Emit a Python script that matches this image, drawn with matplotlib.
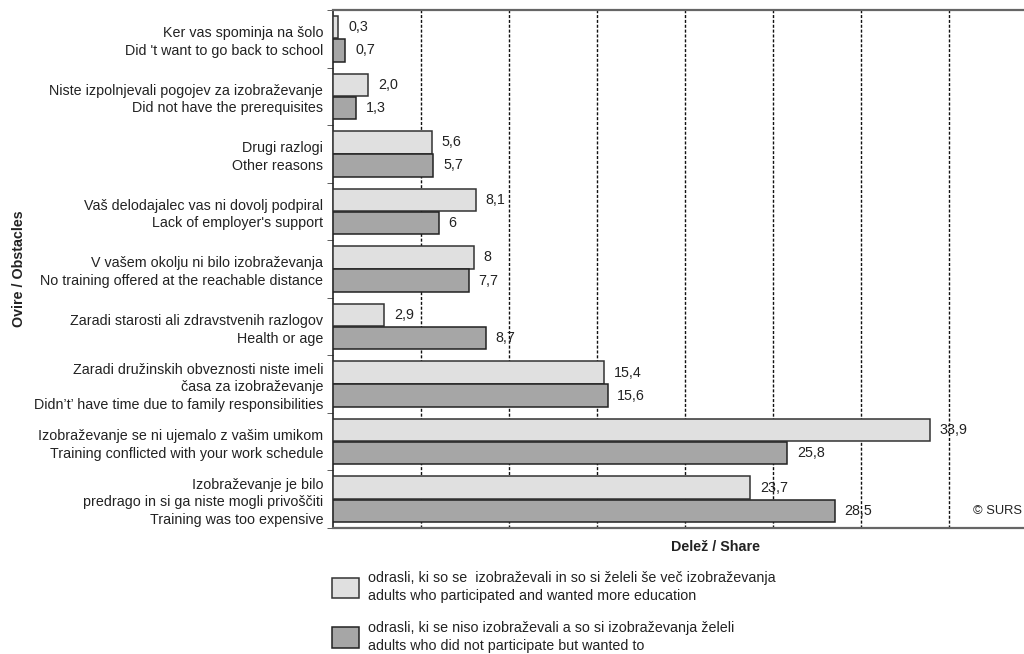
import matplotlib
matplotlib.use("Agg")
import matplotlib.pyplot as plt
import numpy as np

# Obstacles to (more) education, two groups of adults
categories = [
    "Ker vas spominja na šolo\nDid 't want to go back to school",
    "Niste izpolnjevali pogojev za izobraževanje\nDid not have the prerequisites",
    "Drugi razlogi\nOther reasons",
    "Vaš delodajalec vas ni dovolj podpiral\nLack of employer's support",
    "V vašem okolju ni bilo izobraževanja\nNo training offered at the reachable distance",
    "Zaradi starosti ali zdravstvenih razlogov\nHealth or age",
    "Zaradi družinskih obveznosti niste imeli\nčasa za izobraževanje\nDidn’t’ have time due to family responsibilities",
    "Izobraževanje se ni ujemalo z vašim umikom\nTraining conflicted with your work schedule",
    "Izobraževanje je bilo\npredrago in si ga niste mogli privoščiti\nTraining was too expensive",
]
participated = [0.3, 2.0, 5.6, 8.1, 8.0, 2.9, 15.4, 33.9, 23.7]
not_participated = [0.7, 1.3, 5.7, 6.0, 7.7, 8.7, 15.6, 25.8, 28.5]
participated_labels = ["0,3", "2,0", "5,6", "8,1", "8", "2,9", "15,4", "33,9", "23,7"]
not_participated_labels = ["0,7", "1,3", "5,7", "6", "7,7", "8,7", "15,6", "25,8", "28,5"]

legend_labels = [
    "odrasli, ki so se  izobraževali in so si želeli še več izobraževanja\n"
    "adults who participated and wanted more education",
    "odrasli, ki se niso izobraževali a so si izobraževanja želeli\n"
    "adults who did not participate but wanted to",
]

plt.rcParams["font.family"] = "Liberation Sans"
fs = 10.3
text_color = "#222222"
light = "#e0e0e0"
dark = "#a6a6a6"

fig = plt.figure(figsize=(10.24, 6.54), dpi=100)
# axes run past the right edge of the figure on purpose
ax = fig.add_axes([333 / 1024, 126 / 654, 704 / 1024, 518 / 654])

y = np.arange(len(categories))
h = 0.39
b1 = ax.barh(y - 0.2, participated, height=h, color=light, edgecolor="#333333",
             linewidth=1.1, zorder=3, label=legend_labels[0])
b2 = ax.barh(y + 0.2, not_participated, height=h, color=dark, edgecolor="#222222",
             linewidth=1.1, zorder=3, label=legend_labels[1])

for bars, labels in ((b1, participated_labels), (b2, not_participated_labels)):
    for rect, lab in zip(bars, labels):
        ax.annotate(lab, (rect.get_width(), rect.get_y() + rect.get_height() / 2),
                    xytext=(7, 0), textcoords="offset points", va="center",
                    ha="left", fontsize=fs, color=text_color, zorder=4)

ax.set_xlim(0, 40)
ax.set_ylim(len(categories) - 0.5, -0.5)

for gx in range(5, 40, 5):
    ax.axvline(gx, color="#111111", linestyle=(0, (2.2, 1.3)), linewidth=1.0, zorder=1)

ax.set_xticks([])
ax.set_yticks(y)
ax.set_yticklabels(categories, fontsize=fs, color=text_color, linespacing=1.32)
ax.tick_params(axis="y", which="major", length=0, pad=7)
ax.set_yticks(np.arange(-0.5, len(categories), 1.0), minor=True)
ax.tick_params(axis="y", which="minor", length=4, direction="out", color="#444444")

ax.spines["left"].set_color("#222222")
ax.spines["left"].set_linewidth(1.2)
for side in ("top", "bottom"):
    ax.spines[side].set_color("#666666")
    ax.spines[side].set_linewidth(1.6)
ax.spines["right"].set_visible(False)

ax.set_xlabel("Delež / Share", fontsize=fs, fontweight="bold", color=text_color)
ax.xaxis.set_label_coords(0.543, -0.024, transform=ax.transAxes)
ax.xaxis.label.set_va("top")

fig.text(19 / 1024, 0.589, "Ovire / Obstacles", rotation=90, ha="center", va="center",
         fontsize=fs, fontweight="bold", color=text_color)
fig.text(1022 / 1024, 1 - 511 / 654, "© SURS", ha="right", va="center",
         fontsize=fs - 1, color=text_color)

leg = fig.legend(handles=[b1, b2], loc="upper left",
                 bbox_to_anchor=(332 / 1024, 1 - 571 / 654), frameon=False,
                 borderpad=0, borderaxespad=0,
                 fontsize=fs, handlelength=1.9, handleheight=1.8, handletextpad=0.63,
                 labelspacing=1.25)
for t in leg.get_texts():
    t.set_color(text_color)
    t.set_linespacing(1.35)

fig.savefig("out.png", dpi=100)
